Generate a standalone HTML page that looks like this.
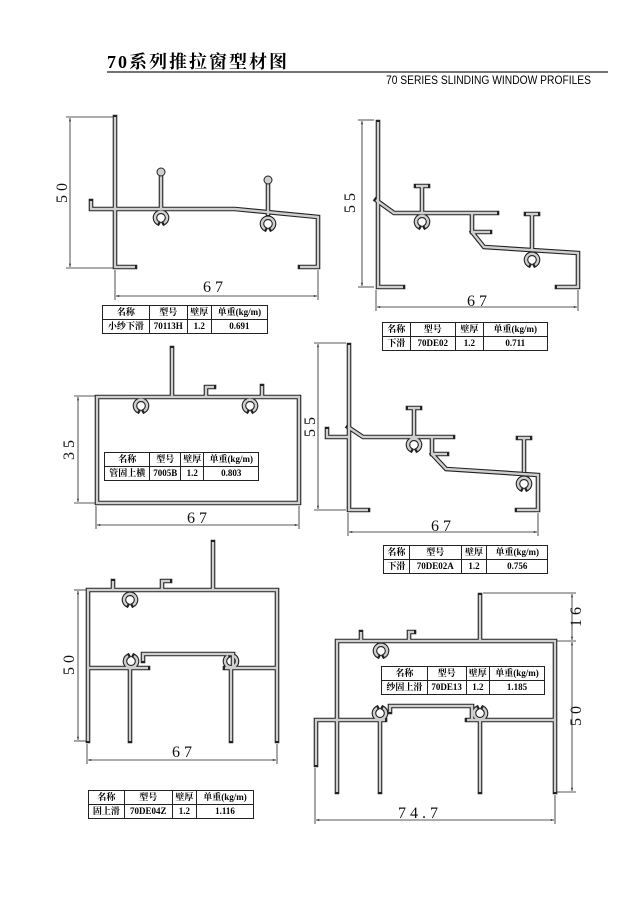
<!DOCTYPE html>
<html><head><meta charset="utf-8"><style>
body{margin:0;background:#fff;width:640px;height:904px;position:relative;overflow:hidden;font-family:"Liberation Serif","Noto Serif CJK SC",serif}
svg{position:absolute;left:0;top:0}
table{position:absolute;border-collapse:collapse;font-size:9px;background:#fff}
td{border:1px solid #222;text-align:center;padding:0;height:13px;line-height:13px;font-weight:bold}
.o{fill:none;stroke:#222;stroke-width:4.6;stroke-linejoin:miter;stroke-linecap:square}
.i{fill:none;stroke:#cfcfcf;stroke-width:2.4;stroke-linejoin:miter;stroke-linecap:butt}
.d{stroke:#222;stroke-width:0.8;fill:none}
.t{font-family:"Liberation Serif",serif;font-size:16px;fill:#111}
</style></head><body>
<svg width="640" height="904" viewBox="0 0 640 904">
<defs>
<marker id="a" viewBox="0 0 10 10" refX="10" refY="5" markerWidth="6" markerHeight="4" orient="auto-start-reverse"><path d="M0,2 L10,5 L0,8z" fill="#222"/></marker>
<path id="p1" d="M115,117 V267 H135 M91,201 V209 H235 L318,217 V267 H300 M161,172 V209 M268,180 V215 M158,223 A6 6 0 1 1 164,223 M265,229 A6 6 0 1 1 271,229"/>
<path id="p2" d="M378,122 V287 H403 M376,200 L394,213 H497 M422,187 V213 M416,186 H428 M419,227 A6 6 0 1 1 425,227 M472,213 V232 H490 M472,232 L484,247 L578,253 V287 H557 M532,215 V250 M526,214 H538 M529,265 A6 6 0 1 1 535,265"/>
<path id="p3" d="M97,397 H299 V503 H97 Z M172,348 V397 M206,397 V387 H214 M262,397 V386 M138,411 A6 6 0 1 1 144,411 M247,411 A6 6 0 1 1 253,411"/>
<path id="p4" d="M349,345 V510 H368 M327,429 V437 H349 M348,427 L363,437 H453 M414,409 V437 M408,408 H420 M411,450 A6 6 0 1 1 417,450 M432,437 V454 H447 M432,454 L446,469 L538,475 V510 H517 M524,439 V472 M518,438 H530 M521,489 A6 6 0 1 1 527,489"/>
<path id="p5" d="M88,741 V590 H277 V741 M213,542 V590 M113,590 V581 M162,590 V581 H170 M88,668 H148 M130,668 V741 M143,661 V654 H233 V668 M231,668 V741 M225,668 H277 M127,605 A6 6 0 1 1 133,605 M128,656 A6 6 0 1 0 134,656 M228,656 A6 6 0 1 0 234,656"/>
<path id="p6" d="M337,792 V641 H555 V792 M480,595 V641 M361,641 V632 M409,641 V632 H414 M316,765 V720 H385 M380,720 V792 M390,712 V706 H472 V720 M480,720 V792 M467,720 H555 M378,656 A6 6 0 1 1 384,656 M377,708 A6 6 0 1 0 383,708 M477,708 A6 6 0 1 0 483,708"/>
</defs>
<use href="#p1" class="o"/><use href="#p1" class="i"/>
<use href="#p2" class="o"/><use href="#p2" class="i"/>
<use href="#p3" class="o"/><use href="#p3" class="i"/>
<use href="#p4" class="o"/><use href="#p4" class="i"/>
<use href="#p5" class="o"/><use href="#p5" class="i"/>
<use href="#p6" class="o"/><use href="#p6" class="i"/>
<circle cx="161" cy="172" r="4" fill="#cfcfcf" stroke="#222"/>
<circle cx="268" cy="180" r="4" fill="#cfcfcf" stroke="#222"/>
<text x="107" y="68" font-size="18" font-weight="bold" font-family="Liberation Serif,Noto Serif CJK SC,serif" letter-spacing="2">70系列推拉窗型材图</text>
<line x1="107" y1="72" x2="608" y2="72" stroke="#222" stroke-width="1.2"/>
<text x="591" y="84" font-size="11.5" text-anchor="end" font-family="Liberation Sans,sans-serif" textLength="205" lengthAdjust="spacingAndGlyphs">70 SERIES SLINDING WINDOW PROFILES</text>
<g class="d">
<line x1="66" y1="117" x2="113" y2="117"/><line x1="66" y1="268" x2="113" y2="268"/><line x1="70" y1="118" x2="70" y2="267" marker-start="url(#a)" marker-end="url(#a)"/>
<line x1="115" y1="270" x2="115" y2="300"/><line x1="318" y1="270" x2="318" y2="300"/><line x1="116" y1="296" x2="317" y2="296" marker-start="url(#a)" marker-end="url(#a)"/>
<line x1="358" y1="120" x2="374" y2="120"/><line x1="358" y1="287" x2="374" y2="287"/><line x1="362" y1="121" x2="362" y2="286" marker-start="url(#a)" marker-end="url(#a)"/>
<line x1="376" y1="290" x2="376" y2="311"/><line x1="578" y1="290" x2="578" y2="311"/><line x1="377" y1="307" x2="577" y2="307" marker-start="url(#a)" marker-end="url(#a)"/>
<line x1="74" y1="396" x2="95" y2="396"/><line x1="74" y1="503" x2="95" y2="503"/><line x1="78" y1="397" x2="78" y2="502" marker-start="url(#a)" marker-end="url(#a)"/>
<line x1="96" y1="506" x2="96" y2="529"/><line x1="299" y1="506" x2="299" y2="529"/><line x1="97" y1="525" x2="298" y2="525" marker-start="url(#a)" marker-end="url(#a)"/>
<line x1="314" y1="343" x2="346" y2="343"/><line x1="314" y1="510" x2="346" y2="510"/><line x1="318" y1="344" x2="318" y2="509" marker-start="url(#a)" marker-end="url(#a)"/>
<line x1="348" y1="513" x2="348" y2="536"/><line x1="538" y1="513" x2="538" y2="536"/><line x1="349" y1="532" x2="537" y2="532" marker-start="url(#a)" marker-end="url(#a)"/>
<line x1="74" y1="590" x2="86" y2="590"/><line x1="74" y1="741" x2="86" y2="741"/><line x1="78" y1="591" x2="78" y2="740" marker-start="url(#a)" marker-end="url(#a)"/>
<line x1="87" y1="744" x2="87" y2="764"/><line x1="277" y1="744" x2="277" y2="764"/><line x1="88" y1="760" x2="276" y2="760" marker-start="url(#a)" marker-end="url(#a)"/>
<line x1="483" y1="593" x2="576" y2="593"/><line x1="557" y1="641" x2="576" y2="641"/><line x1="557" y1="792" x2="576" y2="792"/>
<line x1="572" y1="594" x2="572" y2="640" marker-start="url(#a)" marker-end="url(#a)"/><line x1="572" y1="642" x2="572" y2="791" marker-start="url(#a)" marker-end="url(#a)"/>
<line x1="315" y1="768" x2="315" y2="824"/><line x1="555" y1="795" x2="555" y2="824"/><line x1="316" y1="820" x2="554" y2="820" marker-start="url(#a)" marker-end="url(#a)"/>
</g>
<text class="t" x="213" y="292" text-anchor="middle">6 7</text>
<text class="t" x="477" y="306" text-anchor="middle">6 7</text>
<text class="t" x="197" y="523" text-anchor="middle">6 7</text>
<text class="t" x="441" y="531" text-anchor="middle">6 7</text>
<text class="t" x="182" y="757" text-anchor="middle">6 7</text>
<text class="t" x="418" y="818" text-anchor="middle">7 4 . 7</text>
<text class="t" transform="translate(67,193) rotate(-90)" text-anchor="middle">5 0</text>
<text class="t" transform="translate(355,203) rotate(-90)" text-anchor="middle">5 5</text>
<text class="t" transform="translate(74,450) rotate(-90)" text-anchor="middle">3 5</text>
<text class="t" transform="translate(315,427) rotate(-90)" text-anchor="middle">5 5</text>
<text class="t" transform="translate(74,665) rotate(-90)" text-anchor="middle">5 0</text>
<text class="t" transform="translate(581,617) rotate(-90)" text-anchor="middle">1 6</text>
<text class="t" transform="translate(581,716) rotate(-90)" text-anchor="middle">5 0</text>
</svg>
<table style="left:102px;top:305px;width:166px"><tr><td>名称</td><td>型号</td><td>壁厚</td><td>单重(kg/m)</td></tr><tr><td>小纱下滑</td><td>70113H</td><td>1.2</td><td>0.691</td></tr></table>
<table style="left:382px;top:322px;width:166px"><tr><td>名称</td><td>型号</td><td>壁厚</td><td>单重(kg/m)</td></tr><tr><td>下滑</td><td>70DE02</td><td>1.2</td><td>0.711</td></tr></table>
<table style="left:104px;top:452px;width:155px"><tr><td>名称</td><td>型号</td><td>壁厚</td><td>单重(kg/m)</td></tr><tr><td>管固上横</td><td>7005B</td><td>1.2</td><td>0.803</td></tr></table>
<table style="left:383px;top:545px;width:165px"><tr><td>名称</td><td>型号</td><td>壁厚</td><td>单重(kg/m)</td></tr><tr><td>下滑</td><td>70DE02A</td><td>1.2</td><td>0.756</td></tr></table>
<table style="left:88px;top:790px;width:166px"><tr><td>名称</td><td>型号</td><td>壁厚</td><td>单重(kg/m)</td></tr><tr><td>固上滑</td><td>70DE04Z</td><td>1.2</td><td>1.116</td></tr></table>
<table style="left:381px;top:666px;width:164px"><tr><td>名称</td><td>型号</td><td>壁厚</td><td>单重(kg/m)</td></tr><tr><td>纱固上滑</td><td>70DE13</td><td>1.2</td><td>1.185</td></tr></table>
</body></html>
